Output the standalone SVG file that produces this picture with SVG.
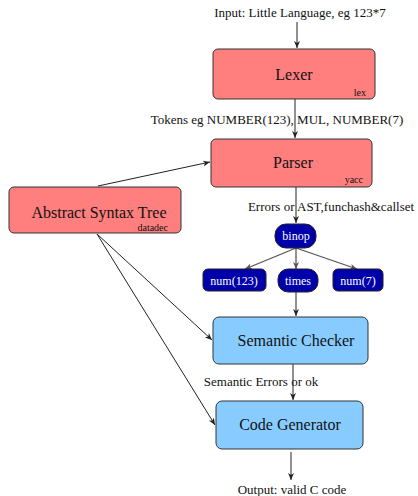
<svg xmlns="http://www.w3.org/2000/svg" width="418" height="496" viewBox="0 0 418 496" font-family="'Liberation Serif','DejaVu Serif',serif">
<defs>
<marker id="ah" markerWidth="8" markerHeight="8" refX="7" refY="4" orient="auto" markerUnits="userSpaceOnUse">
<path d="M0,1 L7,4 L0,7 L2,4 Z" fill="#222"/>
</marker>
<marker id="ahg" markerWidth="8" markerHeight="8" refX="7" refY="4" orient="auto" markerUnits="userSpaceOnUse">
<path d="M0,1 L7,4 L0,7 L2,4 Z" fill="#555"/>
</marker>
</defs>
<style>
text{font-family:'Liberation Serif','DejaVu Serif',serif;fill:#111}
.red{fill:#ff7f7f;stroke:#333;stroke-width:1}
.blue{fill:#88ccff;stroke:#333;stroke-width:1}
.dk{fill:#0000aa;stroke:#222;stroke-width:1}
.big{font-size:16px;text-anchor:middle}
.sm{font-size:10px;text-anchor:end}
.lbl{font-size:13px;text-anchor:middle}
.wt{font-size:12px;text-anchor:middle;fill:#fff}
.e{stroke:#222;stroke-width:1;fill:none;marker-end:url(#ah)}
.g{stroke:#555;stroke-width:1.3;fill:none;marker-end:url(#ahg)}
</style>
<rect width="418" height="496" fill="#fff"/>
<g id="connectors">
<line class="e" x1="297" y1="22" x2="297" y2="48"/>
<line class="e" x1="295" y1="99" x2="295" y2="138"/>
<line class="e" x1="98" y1="186" x2="210" y2="162"/>
<line class="e" x1="296" y1="187" x2="296" y2="223"/>
<line class="g" x1="296" y1="248" x2="245" y2="269"/>
<line class="g" x1="296" y1="248" x2="296" y2="269"/>
<line class="g" x1="296" y1="248" x2="357" y2="269"/>
<line class="e" x1="296" y1="292" x2="296" y2="316"/>
<line class="e" x1="97" y1="234" x2="212" y2="340"/>
<line class="e" x1="97" y1="234" x2="215" y2="425"/>
<line class="e" x1="293" y1="364" x2="293" y2="400"/>
<line class="e" x1="291" y1="452" x2="291" y2="480"/>
</g>
<g id="input"><text class="lbl" x="300" y="17">Input: Little Language, eg 123*7</text></g>
<g id="lexer">
<rect class="red" x="213" y="49" width="162" height="50" rx="5"/>
<text class="big" x="294" y="80">Lexer</text>
<text class="sm" x="366" y="96">lex</text>
</g>
<g id="tokens"><text class="lbl" x="277" y="124">Tokens eg NUMBER(123), MUL, NUMBER(7)</text></g>
<g id="parser">
<rect class="red" x="211" y="139" width="161" height="48" rx="5"/>
<text class="big" x="293" y="168">Parser</text>
<text class="sm" x="363" y="183">yacc</text>
</g>
<g id="errors"><text class="lbl" x="331" y="211">Errors or AST,funchash&amp;callset</text></g>
<g id="ast">
<rect class="red" x="9" y="187" width="172" height="46" rx="5"/>
<text class="big" x="99" y="218">Abstract Syntax Tree</text>
<text class="sm" x="168" y="231">datadec</text>
</g>
<g id="binop">
<rect class="dk" x="275" y="224" width="41" height="24" rx="11"/>
<text class="wt" x="296" y="240">binop</text>
</g>
<g id="num123">
<rect class="dk" x="203" y="269" width="63" height="22" rx="5"/>
<text class="wt" x="234" y="285">num(123)</text>
</g>
<g id="times">
<rect class="dk" x="278" y="269" width="40" height="23" rx="10"/>
<text class="wt" x="298" y="285">times</text>
</g>
<g id="num7">
<rect class="dk" x="333" y="269" width="50" height="22" rx="5"/>
<text class="wt" x="358" y="285">num(7)</text>
</g>
<g id="semantic">
<rect class="blue" x="213" y="317" width="155" height="47" rx="6"/>
<text class="big" x="296" y="346">Semantic Checker</text>
</g>
<g id="semerr"><text class="lbl" x="261" y="386">Semantic Errors or ok</text></g>
<g id="codegen">
<rect class="blue" x="216" y="401" width="147" height="48" rx="6"/>
<text class="big" x="290" y="430">Code Generator</text>
</g>
<g id="output"><text class="lbl" x="292" y="494">Output: valid C code</text></g>
</svg>
